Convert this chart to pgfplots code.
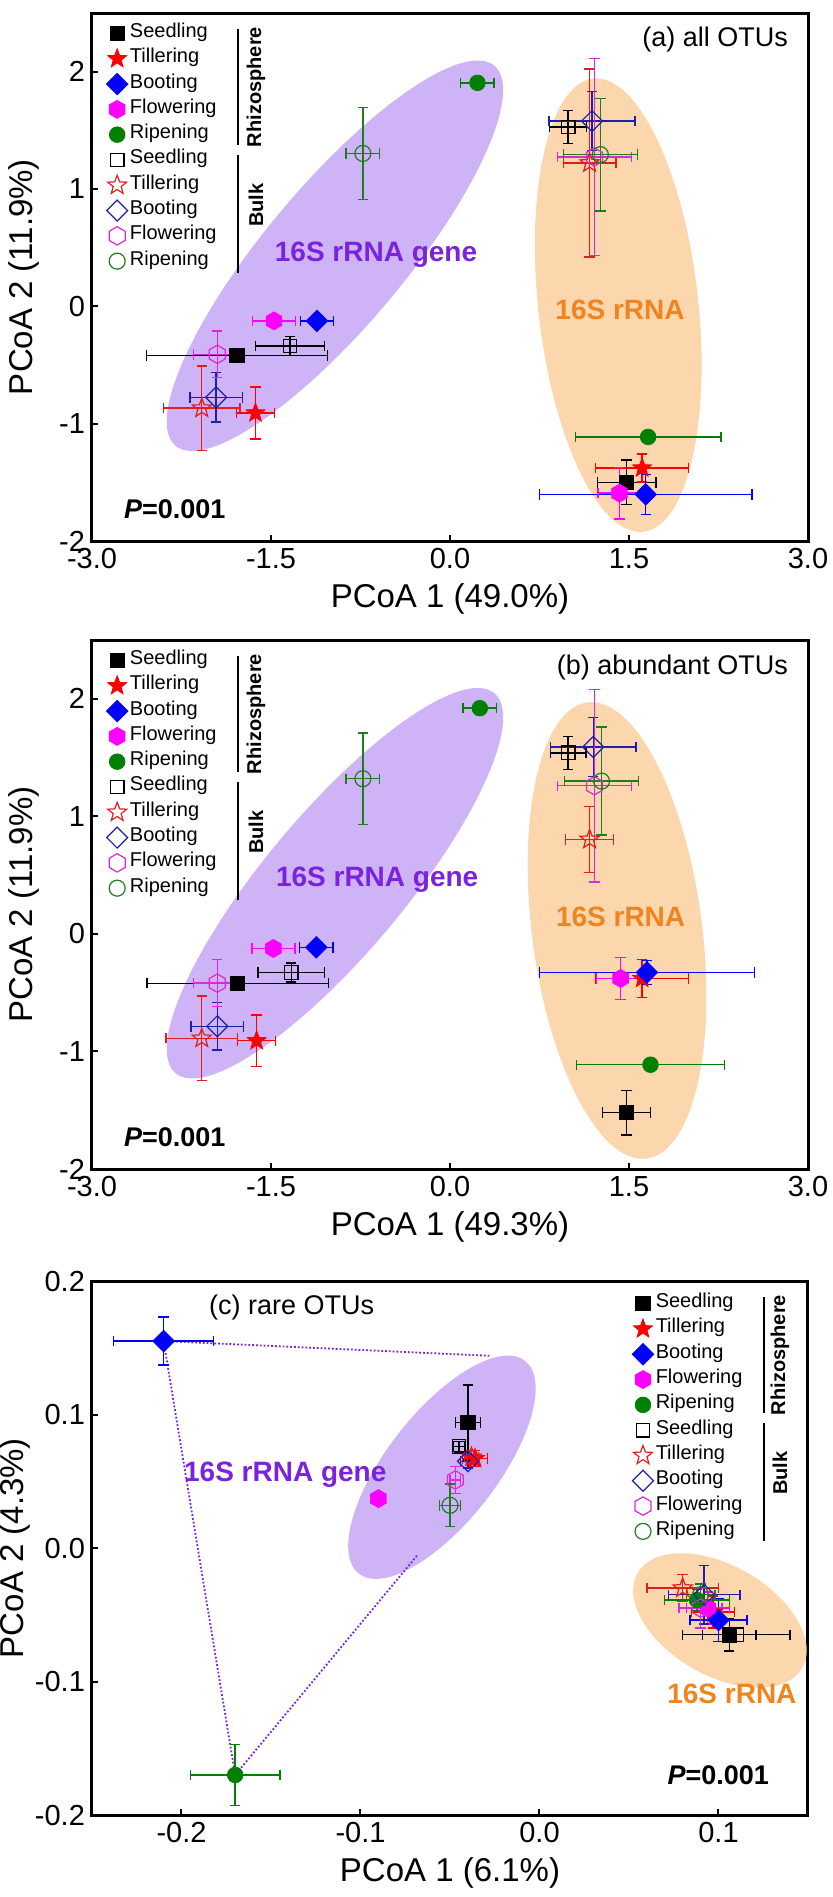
\documentclass[border=0pt]{standalone}
\usepackage{fontspec}
\setmainfont{Liberation Sans}
\usepackage{pgfplots}
\pgfplotsset{compat=1.18}

\definecolor{dgreen}{RGB}{0,128,0}
\definecolor{ogreen}{RGB}{30,125,30}
\definecolor{oblue}{RGB}{30,30,170}
\definecolor{fmag}{RGB}{255,0,255}
\definecolor{omag}{RGB}{220,40,220}
\definecolor{ored}{RGB}{225,30,30}
\definecolor{purpfill}{RGB}{206,180,246}
\definecolor{orfill}{RGB}{252,214,172}
\definecolor{purptext}{RGB}{122,34,222}
\definecolor{ortext}{RGB}{240,132,30}

% hexagon and 5-point star marks
\def\hexpath{%
  \pgfpathmoveto{\pgfpointpolar{90}{\pgfplotmarksize}}%
  \pgfpathlineto{\pgfpointpolar{150}{\pgfplotmarksize}}%
  \pgfpathlineto{\pgfpointpolar{210}{\pgfplotmarksize}}%
  \pgfpathlineto{\pgfpointpolar{270}{\pgfplotmarksize}}%
  \pgfpathlineto{\pgfpointpolar{330}{\pgfplotmarksize}}%
  \pgfpathlineto{\pgfpointpolar{30}{\pgfplotmarksize}}%
  \pgfpathclose}
\def\starpath{%
  \pgfpathmoveto{\pgfpointpolar{90}{\pgfplotmarksize}}%
  \pgfpathlineto{\pgfpointpolar{126}{0.42\pgfplotmarksize}}%
  \pgfpathlineto{\pgfpointpolar{162}{\pgfplotmarksize}}%
  \pgfpathlineto{\pgfpointpolar{198}{0.42\pgfplotmarksize}}%
  \pgfpathlineto{\pgfpointpolar{234}{\pgfplotmarksize}}%
  \pgfpathlineto{\pgfpointpolar{270}{0.42\pgfplotmarksize}}%
  \pgfpathlineto{\pgfpointpolar{306}{\pgfplotmarksize}}%
  \pgfpathlineto{\pgfpointpolar{342}{0.42\pgfplotmarksize}}%
  \pgfpathlineto{\pgfpointpolar{18}{\pgfplotmarksize}}%
  \pgfpathlineto{\pgfpointpolar{54}{0.42\pgfplotmarksize}}%
  \pgfpathclose}
\pgfdeclareplotmark{hex*}{\hexpath\pgfusepathqfillstroke}
\pgfdeclareplotmark{hex}{\hexpath\pgfusepathqstroke}
\pgfdeclareplotmark{star5*}{\starpath\pgfusepathqfillstroke}
\pgfdeclareplotmark{star5}{\starpath\pgfusepathqstroke}

\pgfplotsset{
  grp/.style={only marks,
    error bars/x dir=both, error bars/x explicit,
    error bars/y dir=both, error bars/y explicit,
    error bars/error bar style={line width=0.7pt},
    error bars/error mark options={rotate=90, mark size=2.6pt, line width=0.7pt}},
  sR/.style={grp, color=black, mark=square*, mark size=3.6pt},
  tR/.style={grp, color=red, mark=star5*, mark size=5pt},
  bR/.style={grp, color=blue, mark=square*, mark size=3.8pt, mark options={rotate=45}},
  fR/.style={grp, color=fmag, mark=hex*, mark size=4.5pt},
  rR/.style={grp, color=dgreen, mark=*, mark size=3.9pt},
  sB/.style={grp, color=black, mark=square, mark size=3.4pt, mark options={line width=0.6pt}},
  tB/.style={grp, color=ored, mark=star5, mark size=5pt, mark options={line width=0.6pt}},
  bB/.style={grp, color=oblue, mark=square, mark size=3.7pt, mark options={rotate=45, line width=0.6pt}},
  fB/.style={grp, color=omag, mark=hex, mark size=4.6pt, mark options={line width=0.6pt}},
  rB/.style={grp, color=ogreen, mark=o, mark size=4pt, mark options={line width=0.6pt}},
  common/.style={
    scale only axis, width=358pt,
    axis line style={line width=1.5pt},
    every tick/.style={black, line width=1pt},
    tick align=inside, major tick length=3pt,
    xtick pos=bottom, ytick pos=left,
    scaled ticks=false,
    tick label style={font=\fontsize{14.5}{16}\selectfont},
    /pgf/number format/assume math mode=true,
    legend image code/.code={\draw[mark repeat=2,mark phase=2] plot coordinates {(0pt,0pt) (6pt,0pt) (20pt,0pt)};},
    legend cell align=left,
    legend style={draw=none, fill=none, inner sep=0pt, row sep=0pt, anchor=north west,
      font=\fontsize{10}{12}\selectfont,
      nodes={inner ysep=0pt, inner xsep=1pt, text height=8.3pt, text depth=4.35pt}},
    every axis x label/.style={at={(axis description cs:0.5,0)}, anchor=center, yshift=-29pt,
      font=\fontsize{16.5}{19}\selectfont},
    every axis y label/.style={at={(axis description cs:-0.095,0.5)}, anchor=center, rotate=90,
      font=\fontsize{16.5}{19}\selectfont},
  },
}

\newcommand{\brackets}[2]{% x offset of bracket line, x offset of text
  \draw[line width=1pt] ([shift={(#1,-8pt)}]rel axis cs:0,1) -- ([shift={(#1,-66pt)}]rel axis cs:0,1);
  \draw[line width=1pt] ([shift={(#1,-71pt)}]rel axis cs:0,1) -- ([shift={(#1,-130pt)}]rel axis cs:0,1);
  \node[rotate=90, font=\bfseries\fontsize{10}{12}\selectfont] at ([shift={(#2,-37pt)}]rel axis cs:0,1) {Rhizosphere};
  \node[rotate=90, font=\bfseries\fontsize{10}{12}\selectfont] at ([shift={(#2,-96pt)}]rel axis cs:0,1) {Bulk};
}

\begin{document}
\begin{tikzpicture}
\path[use as bounding box] (-46pt,6.5pt) rectangle (370.5pt,-942pt);

% ---------------- (a) all OTUs
\begin{axis}[common, at={(0pt,0pt)}, anchor=north west, height=264pt,
  xmin=-3, xmax=3, ymin=-2, ymax=2.5,
  xtick={-3,-1.5,0,1.5,3}, ytick={-2,-1,0,1,2},
  x tick label style={/pgf/number format/fixed, /pgf/number format/fixed zerofill, /pgf/number format/precision=1},
  xlabel={PCoA 1 (49.0\%)}, ylabel={PCoA 2 (11.9\%)},
  legend style={at={(axis description cs:0.0196,0.986)}}]
\fill[purpfill, rotate around={50:(axis cs:-0.964,0.431)}] (axis cs:-0.964,0.431) ellipse [x radius=124pt, y radius=35pt];
\fill[orfill, rotate around={6.3:(axis cs:1.41,0.01)}] (axis cs:1.41,0.01) ellipse [x radius=40pt, y radius=114pt];
\node[anchor=base, text=purptext, font=\bfseries\fontsize{14}{16}\selectfont] at (axis cs:-0.62,0.38) {16S rRNA gene};
\node[anchor=base, text=ortext, font=\bfseries\fontsize{14}{16}\selectfont] at (axis cs:1.425,-0.114) {16S rRNA};
\addplot[sR] coordinates {(-1.785,-0.420) +- (0.76,0.03) (1.48,-1.500) +- (0.245,0.19)};
\addplot[tR] coordinates {(-1.63,-0.909) +- (0.16,0.22) (1.61,-1.378) +- (0.39,0.12)};
\addplot[bR] coordinates {(-1.115,-0.124) +- (0.14,0.02) (1.64,-1.602) +- (0.89,0.17)};
\addplot[fR] coordinates {(-1.475,-0.124) +- (0.18,0.02) (1.42,-1.592) +- (0.18,0.22)};
\addplot[rR] coordinates {(0.23,1.905) +- (0.14,0.03) (1.66,-1.113) +- (0.61,0.02)};
\addplot[sB] coordinates {(-1.34,-0.338) +- (0.29,0.08) (0.99,1.528) +- (0.155,0.14)};
\addplot[tB] coordinates {(-2.08,-0.868) +- (0.32,0.36) (1.17,1.222) +- (0.22,0.80)};
\addplot[bB] coordinates {(-1.96,-0.776) +- (0.22,0.21) (1.19,1.579) +- (0.36,0.25)};
\addplot[fB] coordinates {(-1.95,-0.409) +- (0.20,0.20) (1.21,1.273) +- (0.31,0.84)};
\addplot[rB] coordinates {(-0.73,1.303) +- (0.14,0.39) (1.26,1.293) +- (0.31,0.48)};
\legend{Seedling,Tillering,Booting,Flowering,Ripening,Seedling,Tillering,Booting,Flowering,Ripening}
\brackets{73pt}{82pt}
\node[anchor=east, font=\fontsize{13.5}{15}\selectfont] at ([shift={(-6.5pt,-13.5pt)}]rel axis cs:1,1) {(a) all OTUs};
\node[anchor=west, font=\bfseries\fontsize{13.5}{15}\selectfont] at ([shift={(12.5pt,16pt)}]rel axis cs:0,0) {\textit{P}=0.001};
\end{axis}

% ---------------- (b) abundant OTUs
\begin{axis}[common, at={(0pt,-313.5pt)}, anchor=north west, height=264.5pt,
  xmin=-3, xmax=3, ymin=-2, ymax=2.5,
  xtick={-3,-1.5,0,1.5,3}, ytick={-2,-1,0,1,2},
  x tick label style={/pgf/number format/fixed, /pgf/number format/fixed zerofill, /pgf/number format/precision=1},
  xlabel={PCoA 1 (49.3\%)}, ylabel={PCoA 2 (11.9\%)},
  legend style={at={(axis description cs:0.0196,0.986)}}]
\fill[purpfill, rotate around={50:(axis cs:-0.964,0.431)}] (axis cs:-0.964,0.431) ellipse [x radius=124pt, y radius=35pt];
\fill[orfill, rotate around={7.4:(axis cs:1.40,0.029)}] (axis cs:1.40,0.029) ellipse [x radius=42.5pt, y radius=115pt];
\node[anchor=base, text=purptext, font=\bfseries\fontsize{14}{16}\selectfont] at (axis cs:-0.61,0.40) {16S rRNA gene};
\node[anchor=base, text=ortext, font=\bfseries\fontsize{14}{16}\selectfont] at (axis cs:1.43,0.06) {16S rRNA};
\addplot[sR] coordinates {(-1.78,-0.420) +- (0.76,0.03) (1.48,-1.520) +- (0.20,0.19)};
\addplot[tR] coordinates {(-1.62,-0.909) +- (0.16,0.22) (1.61,-0.379) +- (0.39,0.16)};
\addplot[bR] coordinates {(-1.12,-0.114) +- (0.14,0.02) (1.65,-0.328) +- (0.90,0.10)};
\addplot[fR] coordinates {(-1.48,-0.124) +- (0.18,0.02) (1.43,-0.379) +- (0.20,0.18)};
\addplot[rR] coordinates {(0.25,1.92) +- (0.14,0.03) (1.68,-1.113) +- (0.62,0.02)};
\addplot[sB] coordinates {(-1.33,-0.328) +- (0.28,0.08) (0.99,1.54) +- (0.15,0.14)};
\addplot[tB] coordinates {(-2.08,-0.888) +- (0.30,0.36) (1.17,0.804) +- (0.20,0.28)};
\addplot[bB] coordinates {(-1.95,-0.786) +- (0.22,0.20) (1.20,1.59) +- (0.36,0.25)};
\addplot[fB] coordinates {(-1.95,-0.419) +- (0.20,0.20) (1.21,1.26) +- (0.31,0.82)};
\addplot[rB] coordinates {(-0.73,1.32) +- (0.14,0.39) (1.27,1.30) +- (0.31,0.46)};
\legend{Seedling,Tillering,Booting,Flowering,Ripening,Seedling,Tillering,Booting,Flowering,Ripening}
\brackets{73pt}{82pt}
\node[anchor=east, font=\fontsize{13.5}{15}\selectfont] at ([shift={(-6.5pt,-13.5pt)}]rel axis cs:1,1) {(b) abundant OTUs};
\node[anchor=west, font=\bfseries\fontsize{13.5}{15}\selectfont] at ([shift={(12.5pt,16pt)}]rel axis cs:0,0) {\textit{P}=0.001};
\end{axis}

% ---------------- (c) rare OTUs
\begin{axis}[common, at={(0pt,-634pt)}, anchor=north west, height=267pt,
  xmin=-0.25, xmax=0.15, ymin=-0.2, ymax=0.2,
  xtick={-0.2,-0.1,0,0.1}, ytick={-0.2,-0.1,0,0.1,0.2},
  tick label style={/pgf/number format/fixed, /pgf/number format/fixed zerofill, /pgf/number format/precision=1},
  xlabel={PCoA 1 (6.1\%)}, ylabel={PCoA 2 (4.3\%)},
  every axis y label/.append style={at={(axis description cs:-0.108,0.5)}},
  legend style={at={(axis description cs:0.754,0.982)}}]
\fill[purpfill, rotate around={52:(axis cs:-0.0545,0.0605)}] (axis cs:-0.0545,0.0605) ellipse [x radius=67.5pt, y radius=27.5pt];
\fill[orfill, rotate around={-30:(axis cs:0.1008,-0.0543)}] (axis cs:0.1008,-0.0543) ellipse [x radius=47.5pt, y radius=27.5pt];
\addplot[forget plot, densely dotted, color=purptext, line width=0.9pt] coordinates {(-0.028,0.144) (-0.21,0.155) (-0.17,-0.17) (-0.068,-0.005)};
\node[anchor=base, text=purptext, font=\bfseries\fontsize{14}{16}\selectfont] at (axis cs:-0.142,0.05) {16S rRNA gene};
\node[anchor=base, text=ortext, font=\bfseries\fontsize{14}{16}\selectfont] at (axis cs:0.1075,-0.1166) {16S rRNA};
\addplot[sR] coordinates {(-0.040,0.094) +- (0.007,0.028) (0.106,-0.065) +- (0.015,0.012)};
\addplot[tR] coordinates {(-0.036,0.067) +- (0.007,0.006) (0.097,-0.048) +- (0.012,0.012)};
\addplot[bR] coordinates {(-0.210,0.155) +- (0.028,0.018) (0.100,-0.054) +- (0.016,0.016)};
\addplot[fR] coordinates {(-0.090,0.037) +- (0.004,0.004) (0.094,-0.045) +- (0.012,0.012)};
\addplot[rR] coordinates {(-0.170,-0.170) +- (0.025,0.023) (0.088,-0.039) +- (0.018,0.008)};
\addplot[sB] coordinates {(-0.045,0.076) +- (0.003,0.004) (0.110,-0.065) +- (0.030,0.005)};
\addplot[tB] coordinates {(-0.038,0.068) +- (0.004,0.005) (0.080,-0.030) +- (0.020,0.010)};
\addplot[bB] coordinates {(-0.040,0.065) +- (0.004,0.005) (0.092,-0.035) +- (0.020,0.022)};
\addplot[fB] coordinates {(-0.047,0.051) +- (0.003,0.010) (0.090,-0.045) +- (0.012,0.015)};
\addplot[rB] coordinates {(-0.050,0.032) +- (0.006,0.016) (0.090,-0.035) +- (0.008,0.008)};
\legend{Seedling,Tillering,Booting,Flowering,Ripening,Seedling,Tillering,Booting,Flowering,Ripening}
\brackets{336pt}{344pt}
\node[anchor=west, font=\fontsize{13.5}{15}\selectfont] at ([shift={(55pt,-13pt)}]rel axis cs:0,1) {(c) rare OTUs};
\node[anchor=east, font=\bfseries\fontsize{13.5}{15}\selectfont] at ([shift={(-16pt,20pt)}]rel axis cs:1,0) {\textit{P}=0.001};
\end{axis}
\end{tikzpicture}
\end{document}
